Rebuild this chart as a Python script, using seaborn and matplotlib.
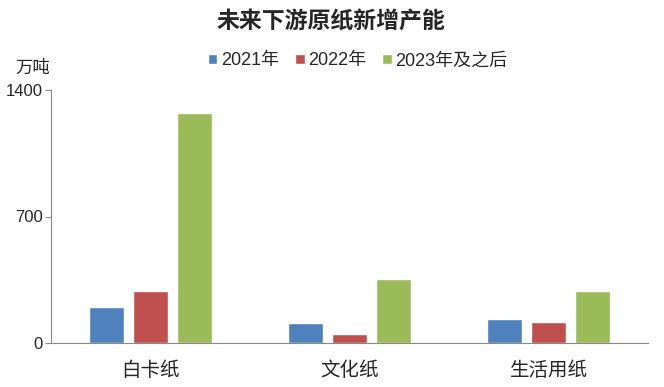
import pandas as pd
import seaborn as sns
import matplotlib.pyplot as plt

categories = ['白卡纸', '文化纸', '生活用纸']
years = ['2021年', '2022年', '2023年及之后']
v2021 = [200, 110, 135]
v2022 = [290, 50, 115]
v2023 = [1270, 355, 285]
colors = ['#4F81BD', '#C0504D', '#9BBB59']

df = pd.DataFrame({
    'cat': categories * 3,
    'year': [y for y in years for _ in categories],
    'val': v2021 + v2022 + v2023,
})

sns.set_style('white')
plt.rcParams['font.family'] = ['Liberation Sans', 'Noto Sans CJK SC']

fig = plt.figure(figsize=(6.64, 3.87), dpi=100)
ax = fig.add_axes([51 / 664, 1 - 343 / 387, 597 / 664, 253 / 387])

sns.barplot(data=df, x='cat', y='val', hue='year', order=categories,
            hue_order=years, palette=colors, width=0.66, gap=0.2,
            saturation=1, ax=ax, legend=True)

ax.set_xlim(-0.5, 2.5)
ax.set_ylim(0, 1400)
ax.set_yticks([0, 700, 1400])
ax.set_xlabel('')
ax.set_ylabel('')
for s in ['top', 'right']:
    ax.spines[s].set_visible(False)
for s in ['left', 'bottom']:
    ax.spines[s].set_color('#888888')
    ax.spines[s].set_linewidth(0.8)
ax.tick_params(axis='y', left=True, length=4, color='#888888', labelsize=12, pad=2)
ax.tick_params(axis='x', bottom=False, labelsize=14, pad=10)

ax.legend(loc='center', bbox_to_anchor=(0.514, 1 + 29 / 253), ncol=3, frameon=False,
          fontsize=13, handlelength=0.5, handleheight=0.5, handletextpad=0.2,
          columnspacing=0.9, borderaxespad=0)

fig.text(331 / 664, 1 - 22 / 387, '未来下游原纸新增产能', ha='center', va='center',
         fontsize=16.5, fontweight='bold')
fig.text(33 / 664, 1 - 68 / 387, '万吨', ha='center', va='center', fontsize=12.5)

fig.savefig('out.png', dpi=100)
